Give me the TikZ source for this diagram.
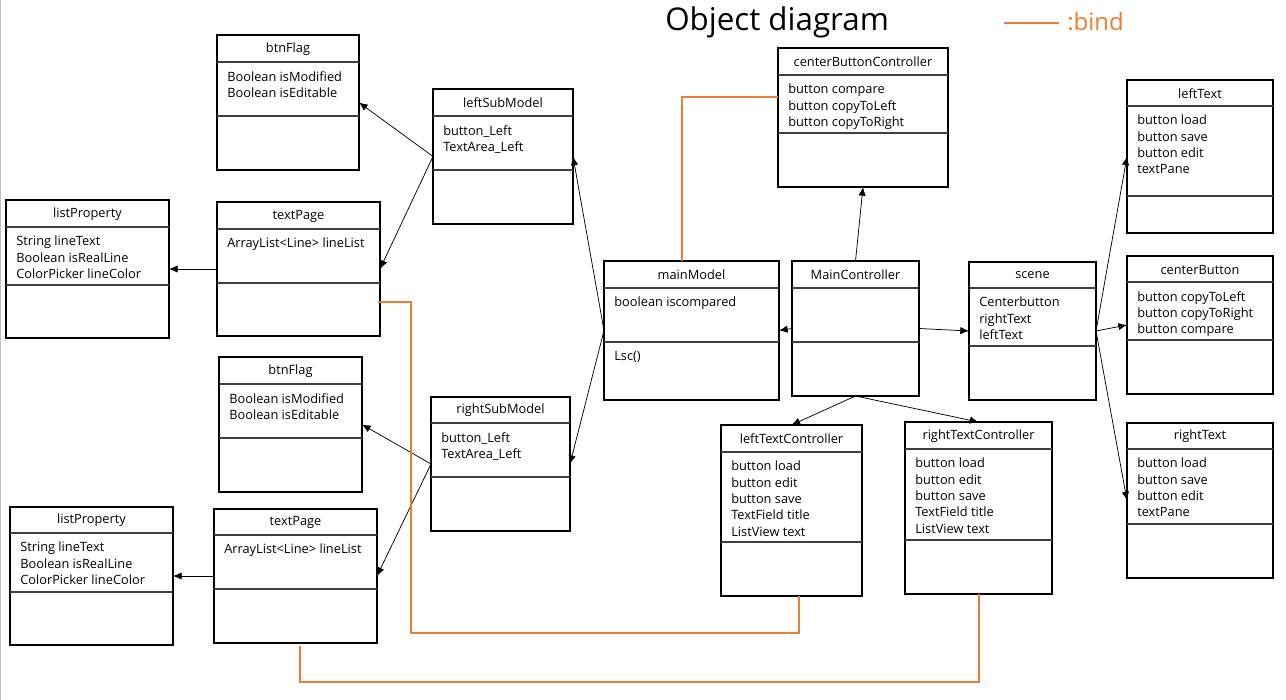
\documentclass[tikz,border=0pt]{standalone}
\usepackage{fontspec}
\setmainfont{Open Sans}
\usetikzlibrary{arrows.meta,calc}

\definecolor{bindorange}{HTML}{ED7D31}
\definecolor{rulegray}{HTML}{404040}

\tikzset{
  x=0.75pt, y=-0.75pt,
  objbox/.style={draw=black, line width=0.8pt, fill=white, inner sep=0pt, outer sep=0pt},
  divider/.style={draw=rulegray, line width=0.9pt},
  objtitle/.style={font=\fontsize{9.6pt}{12pt}\selectfont, inner sep=0pt},
  objattr/.style={font=\fontsize{9.6pt}{12.2pt}\selectfont, align=left, inner sep=0pt},
  conn/.style={draw=black, line width=0.55pt, -{Latex[length=6.5pt,width=5.5pt]}},
  bind/.style={draw=bindorange, line width=1.5pt},
}

% one object: name, left, top, right, bottom, first rule, second rule, title, attributes
\newcommand{\umlobj}[9]{%
  \pgfmathsetmacro{\objW}{(#4-#2)*0.75}%
  \pgfmathsetmacro{\objH}{(#5-#3)*0.75}%
  \node[objbox, minimum width=\objW pt, minimum height=\objH pt, anchor=north west] (#1) at (#2,#3) {};
  \draw[divider] (#2,#6) -- (#4,#6);
  \draw[divider] (#2,#7) -- (#4,#7);
  \node[objtitle] (#1-t) at ({(#2+#4)/2},{(#3+#6)/2+0.5}) {#8};
  \node[objattr, anchor=north west] (#1-a) at ({#2+10},{#6+9}) {#9};
}

\begin{document}
\begin{tikzpicture}
\useasboundingbox (0,0) rectangle (1286,700);
\fill[white] (0,0) rectangle (1286,700);
\draw[black!25, line width=0.8pt] (0.6,0) -- (0.6,700);

% heading and legend
\node[anchor=base west, inner sep=0pt, font=\fontsize{23.5pt}{28pt}\selectfont] (heading) at (665,30.5) {Object diagram};
\coordinate (legA) at (1004,23);
\coordinate (legB) at (1059,23);
\draw[bind] (legA) -- (legB);
\node[anchor=base west, inner sep=0pt, text=bindorange, font=\fontsize{18pt}{22pt}\selectfont] (legend) at (1067,30.5) {:bind};

% left column, upper group
\umlobj{btnFlagA}{217}{35}{359}{170}{62}{116}{btnFlag}{Boolean isModified\\Boolean isEditable}
\umlobj{listPropertyA}{6}{200}{169}{338}{227}{285}{listProperty}{String lineText\\Boolean isRealLine\\ColorPicker lineColor}
\umlobj{textPageA}{217}{202}{380}{336}{229}{283}{textPage}{ArrayList<Line>\ lineList}
\umlobj{leftSubModel}{433}{89}{573}{224}{116}{170}{leftSubModel}{button\_Left\\TextArea\_Left}

% left column, lower group
\umlobj{btnFlagB}{219}{357}{362}{492}{384}{438}{btnFlag}{Boolean isModified\\Boolean isEditable}
\umlobj{listPropertyB}{10}{507}{173}{645}{533}{592}{listProperty}{String lineText\\Boolean isRealLine\\ColorPicker lineColor}
\umlobj{textPageB}{214}{509}{377}{643}{535}{589}{textPage}{ArrayList<Line>\ lineList}
\umlobj{rightSubModel}{431}{397}{570}{531}{423}{477}{rightSubModel}{button\_Left\\TextArea\_Left}

% centre
\umlobj{mainModel}{604}{261}{779}{400}{288}{342}{mainModel}{boolean iscompared}
\node[objattr, anchor=north west] (mainModel-m) at (614,351) {Lsc()};
\umlobj{MainController}{792}{261}{919}{396}{288}{342}{MainController}{}
\umlobj{centerButtonController}{778}{48}{948}{187}{75}{133}{centerButtonController}{button compare\\button copyToLeft\\button copyToRight}
\umlobj{leftTextController}{721}{425}{862}{596}{452}{542}{leftTextController}{button load\\button edit\\button save\\TextField title\\ListView text}
\umlobj{rightTextController}{905}{422}{1052}{594}{449}{540}{rightTextController}{button load\\button edit\\button save\\TextField title\\ListView text}

% right column
\umlobj{scene}{969}{262}{1096}{400}{288}{346}{scene}{Centerbutton\\rightText\\leftText}
\umlobj{leftText}{1127}{80}{1273}{233}{106}{196}{leftText}{button load\\button save\\button edit\\textPane}
\umlobj{centerButton}{1127}{256}{1273}{394}{282}{340}{centerButton}{button copyToLeft\\button copyToRight\\button compare}
\umlobj{rightText}{1127}{423}{1273}{578}{449}{524}{rightText}{button load\\button save\\button edit\\textPane}

% references
\draw[conn] (leftSubModel.west) -- (btnFlagA.east);
\draw[conn] (leftSubModel.west) -- (textPageA.east);
\draw[conn] (textPageA.west) -- (listPropertyA.east);
\draw[conn] (rightSubModel.west) -- (btnFlagB.east);
\draw[conn] (rightSubModel.west) -- (textPageB.east);
\draw[conn] (textPageB.west) -- (listPropertyB.east);
\draw[conn] (mainModel.west) -- (leftSubModel.east);
\draw[conn] (mainModel.west) -- (rightSubModel.east);
\draw[conn] (MainController.west) -- (mainModel.east);
\draw[conn] (MainController.north) -- (centerButtonController.south);
\draw[conn] (MainController.east) -- (scene.west);
\draw[conn] (MainController.south) -- (leftTextController.north);
\draw[conn] (MainController.south) -- (rightTextController.north);
\draw[conn] (scene.east) -- (leftText.west);
\draw[conn] (scene.east) -- (centerButton.west);
\draw[conn] (scene.east) -- (rightText.west);

% bindings
\draw[bind] ($(mainModel.north west)+(78,0)$) |- ($(centerButtonController.north west)+(0,49)$);
\coordinate (bindBendA) at (411,633);
\draw[bind] ($(textPageA.north east)+(-2,100)$) -| (bindBendA) -| ($(leftTextController.south west)+(78,0)$);
\draw[bind] ($(textPageB.south west)+(86,3)$) -- ++(0,36) -| ($(rightTextController.south west)+(74,0)$);
\end{tikzpicture}
\end{document}
